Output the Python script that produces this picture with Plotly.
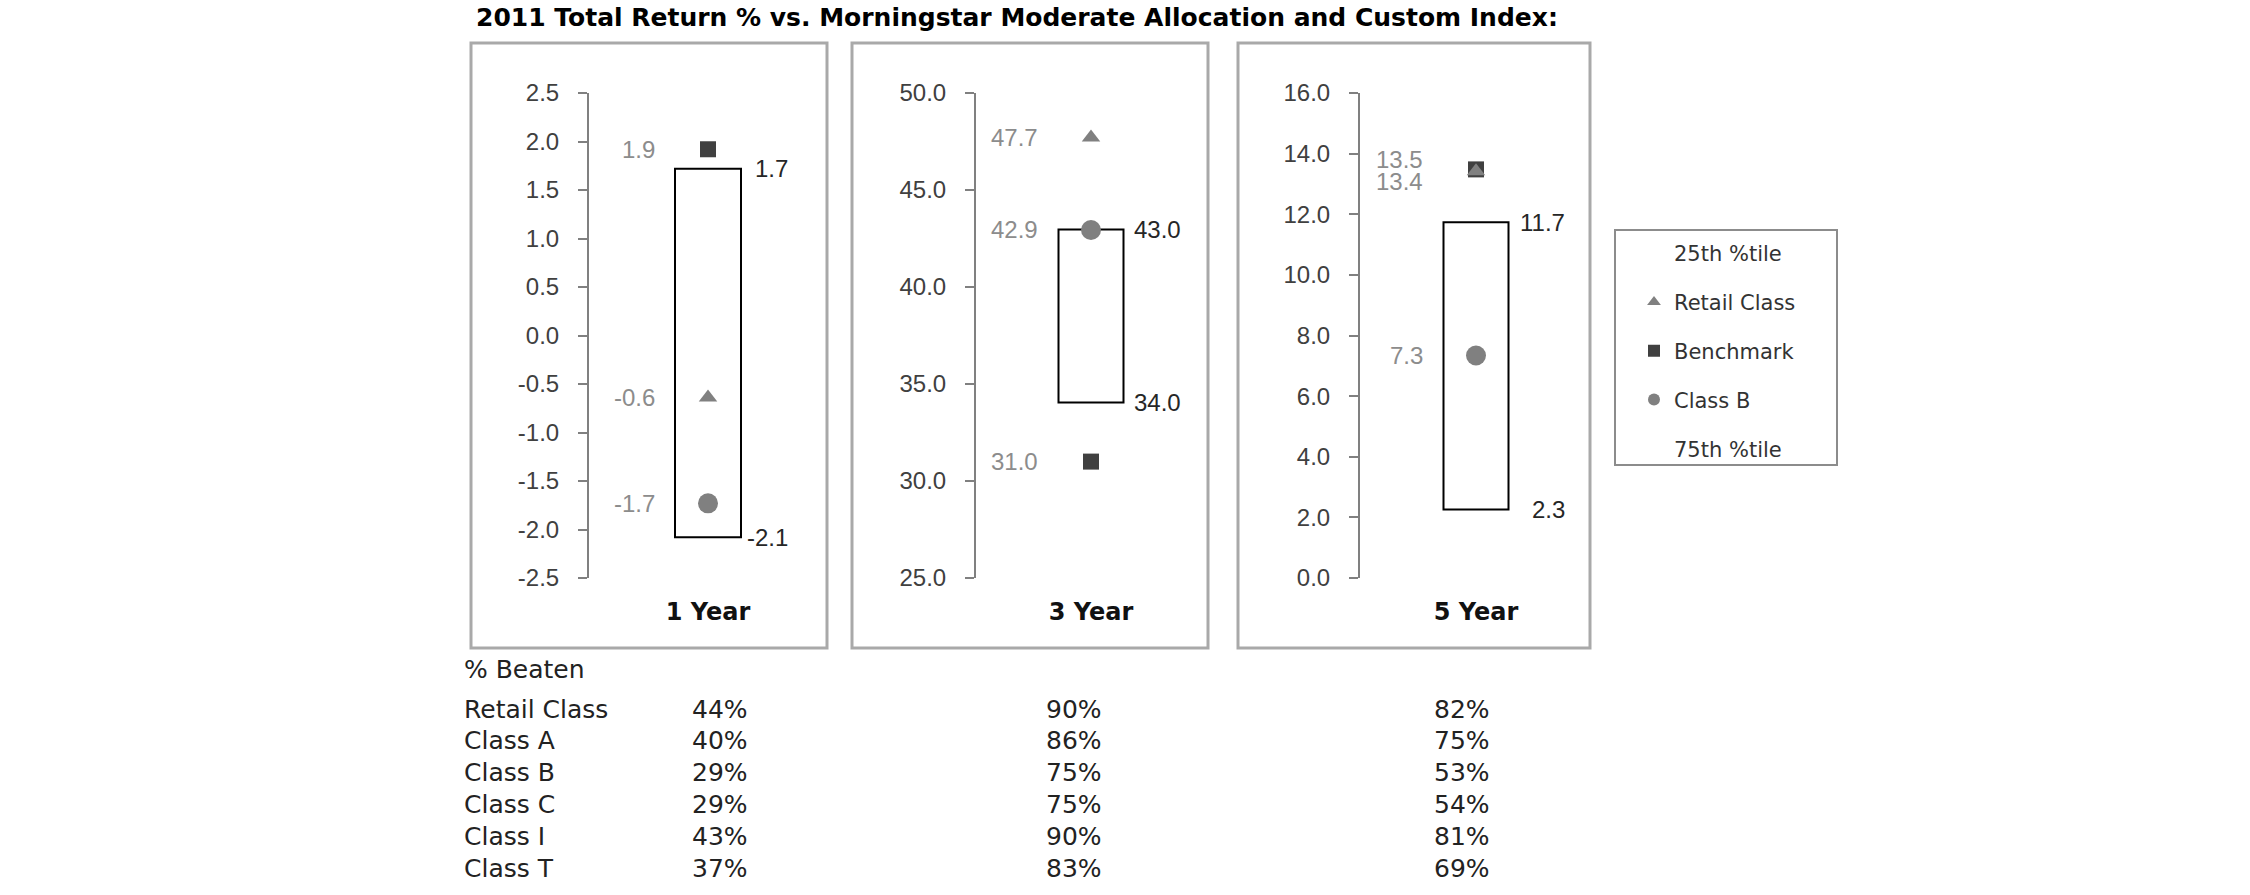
import plotly.graph_objects as go

# ---------------- data ----------------
periods = ["1 Year", "3 Year", "5 Year"]
retail = [-0.64, 47.70, 13.42]       # Retail Class
benchmark = [1.92, 31.00, 13.48]     # Benchmark
class_b = [-1.73, 42.94, 7.34]       # Class B
pct25 = [1.72, 42.97, 11.74]         # 25th %tile (box top)
pct75 = [-2.08, 34.04, 2.26]         # 75th %tile (box bottom)

ticks_1y = [-2.5, -2.0, -1.5, -1.0, -0.5, 0.0, 0.5, 1.0, 1.5, 2.0, 2.5]
ticks_3y = [25.0, 30.0, 35.0, 40.0, 45.0, 50.0]
ticks_5y = [0.0, 2.0, 4.0, 6.0, 8.0, 10.0, 12.0, 14.0, 16.0]
tick_sets = [ticks_1y, ticks_3y, ticks_5y]

beaten_classes = ["Retail Class", "Class A", "Class B", "Class C", "Class I", "Class T"]
beaten_1y = [44, 40, 29, 29, 43, 37]
beaten_3y = [90, 86, 75, 75, 90, 83]
beaten_5y = [82, 75, 53, 54, 81, 69]

title_text = "2011 Total Return % vs. Morningstar Moderate Allocation and Custom Index:"

# ---------------- layout geometry (pixels) ----------------
W, H = 2250, 895
plot_top, plot_bottom = 93, 578
axis_x = [589, 976, 1360]
center_x = [708, 1091, 1476]
box_px = [66, 65, 65]
right_label_shift = [82, 92, 91]
bench_dy = [0, 0, 10]
retail_dy = [0, 0, -10]
frames = [(471, 827), (852, 1208), (1238, 1590)]
frame_y = (43, 648)

def px(x):
    return x / W

def py(y):
    return 1 - y / H

TICK_FONT = "Liberation Sans, Arial, sans-serif"
TEXT_FONT = "DejaVu Sans, Verdana, sans-serif"

fig = go.Figure()
layout_axes = {}
annotations = []
shapes = []

for i in range(3):
    n = i + 1
    xa, ya = f"x{n}" if n > 1 else "x", f"y{n}" if n > 1 else "y"
    width_px = 2 * (center_x[i] - axis_x[i])
    cat = periods[i]

    fig.add_trace(go.Bar(
        x=[cat], y=[pct25[i] - pct75[i]], base=[pct75[i]],
        width=[box_px[i] / width_px],
        marker=dict(color="white", line=dict(color="black", width=2)),
        showlegend=False, hoverinfo="skip", xaxis=xa, yaxis=ya))

    fig.add_trace(go.Scatter(
        x=[cat], y=[benchmark[i]], mode="markers", name="Benchmark",
        legendgroup="bench", legendrank=3, showlegend=(i == 0),
        marker=dict(symbol="square", size=16, color="#404040"),
        xaxis=xa, yaxis=ya))
    fig.add_trace(go.Scatter(
        x=[cat], y=[retail[i]], mode="markers", name="Retail Class",
        legendgroup="retail", legendrank=2, showlegend=(i == 0),
        marker=dict(symbol="triangle-up", size=16, color="#808080"),
        xaxis=xa, yaxis=ya))
    fig.add_trace(go.Scatter(
        x=[cat], y=[class_b[i]], mode="markers", name="Class B",
        legendgroup="classb", legendrank=4, showlegend=(i == 0),
        marker=dict(symbol="circle", size=20, color="#808080"),
        xaxis=xa, yaxis=ya))

    ticks = tick_sets[i]
    layout_axes[f"xaxis{n if n > 1 else ''}"] = dict(
        domain=[px(axis_x[i]), px(axis_x[i] + width_px)],
        type="category", range=[-0.5, 0.5], automargin=False,
        showline=False, showgrid=False, zeroline=False, ticks="",
        tickfont=dict(family=TEXT_FONT, size=24, color="#111111", weight="bold"),
        ticklabelstandoff=17, anchor=ya, fixedrange=True)
    layout_axes[f"yaxis{n if n > 1 else ''}"] = dict(
        domain=[py(plot_bottom), py(plot_top)], automargin=False,
        range=[ticks[0], ticks[-1]],
        tickvals=ticks, ticktext=[f"{t:.1f}" for t in ticks],
        ticks="outside", ticklen=9, tickwidth=2, tickcolor="#808080",
        showline=True, linecolor="#808080", linewidth=2,
        showgrid=False, zeroline=False,
        tickfont=dict(family=TICK_FONT, size=24, color="#404040"),
        ticklabelstandoff=14, anchor=xa, fixedrange=True)

    for v, dy in ((benchmark[i], bench_dy[i]), (retail[i], retail_dy[i]), (class_b[i], 0)):
        annotations.append(dict(
            x=cat, y=v, xref=xa, yref=ya, text=f"{v:.1f}", showarrow=False,
            xanchor="right", yanchor="middle", xshift=-51, yshift=dy,
            font=dict(family=TICK_FONT, size=24, color="#8c8c8c")))
    for v in (pct25[i], pct75[i]):
        annotations.append(dict(
            x=cat, y=v, xref=xa, yref=ya, text=f"{v:.1f}", showarrow=False,
            xanchor="right", yanchor="middle", xshift=right_label_shift[i],
            font=dict(family=TICK_FONT, size=24, color="#262626")))

    fx0, fx1 = frames[i]
    shapes.append(dict(type="rect", xref="paper", yref="paper",
                       x0=px(fx0), x1=px(fx1), y0=py(frame_y[1]), y1=py(frame_y[0]),
                       line=dict(color="#a9a9a9", width=3), fillcolor="rgba(0,0,0,0)",
                       layer="below"))

fig.add_trace(go.Scatter(x=[None], y=[None], mode="markers", name="25th %tile",
                         legendgroup="p25", legendrank=1,
                         marker=dict(size=1, color="rgba(0,0,0,0)")))
fig.add_trace(go.Scatter(x=[None], y=[None], mode="markers", name="75th %tile",
                         legendgroup="p75", legendrank=5,
                         marker=dict(size=1, color="rgba(0,0,0,0)")))

shapes.append(dict(type="rect", xref="paper", yref="paper",
                   x0=px(1615), x1=px(1837), y0=py(465), y1=py(230),
                   line=dict(color="#8c8c8c", width=2), fillcolor="rgba(0,0,0,0)"))

annotations.append(dict(x=px(474), y=py(17), xref="paper", yref="paper",
                        text=title_text, showarrow=False, xanchor="left", yanchor="middle",
                        font=dict(family=TEXT_FONT, size=25, color="#000000", weight="bold")))

TABLE_FONT = dict(family=TEXT_FONT, size=25, color="#222222")
annotations.append(dict(x=px(462), y=py(669), xref="paper", yref="paper", text="% Beaten",
                        showarrow=False, xanchor="left", yanchor="middle", font=TABLE_FONT))
row_y0, row_pitch = 709, 31.85
col_x = [462, 690, 1044, 1432]
for r, name in enumerate(beaten_classes):
    yy = py(row_y0 + r * row_pitch)
    cells = [name, f"{beaten_1y[r]}%", f"{beaten_3y[r]}%", f"{beaten_5y[r]}%"]
    for c, txt in enumerate(cells):
        annotations.append(dict(x=px(col_x[c]), y=yy, xref="paper", yref="paper", text=txt,
                                showarrow=False, xanchor="left", yanchor="middle",
                                font=TABLE_FONT))

fig.update_layout(
    width=W, height=H, autosize=False,
    margin=dict(l=0, r=0, t=0, b=0, pad=0, autoexpand=False),
    paper_bgcolor="white", plot_bgcolor="rgba(0,0,0,0)",
    barmode="overlay",
    showlegend=True,
    legend=dict(x=px(1634), y=py(233), xanchor="left", yanchor="top",
                traceorder="grouped", tracegroupgap=18.5, itemsizing="constant",
                font=dict(family=TEXT_FONT, size=21, color="#333333"),
                bgcolor="rgba(0,0,0,0)", borderwidth=0),
    annotations=annotations, shapes=shapes,
    **layout_axes)

fig.write_html("out.html", config={"displayModeBar": False},
               post_script="document.body.style.margin='0';document.body.style.padding='0';")
